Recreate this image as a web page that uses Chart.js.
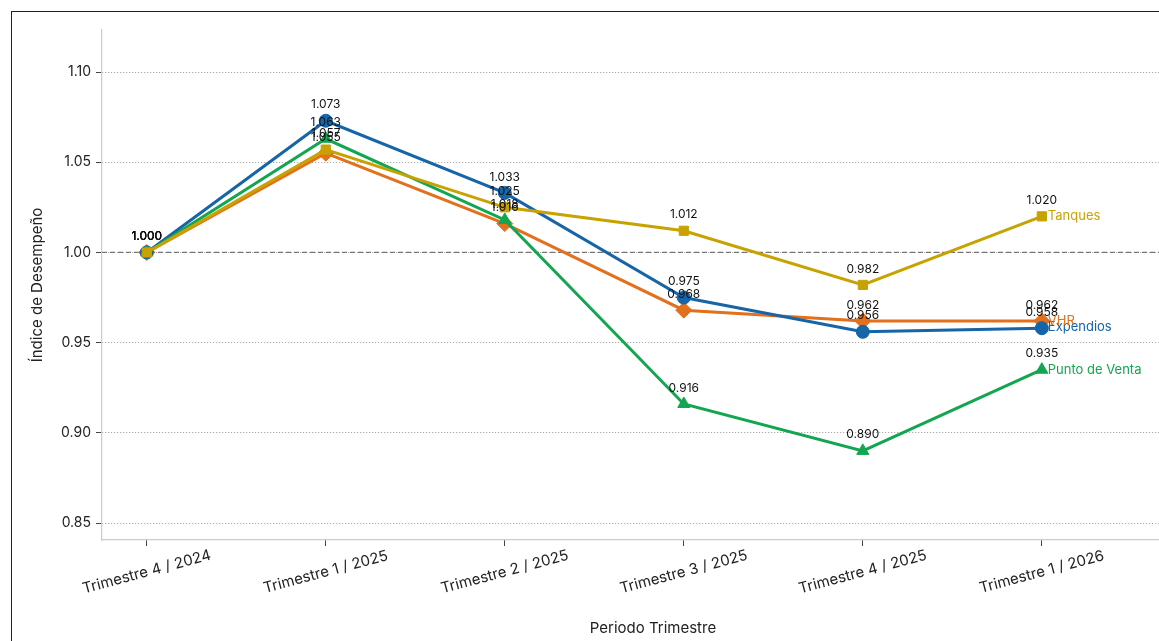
<!DOCTYPE html>
<html>
<head>
<meta charset="utf-8">
<script src="https://cdn.jsdelivr.net/npm/chart.js@4"></script>
<style>
  body { margin: 0; background: #fff; overflow: hidden; }
  #frame { position: absolute; left: 11px; top: 11px; width: 1220px; height: 700px; border: 1.5px solid #222; }
  #wrap { position: absolute; left: 0; top: 0; width: 1213px; height: 641px; }
</style>
</head>
<body>
<div id="frame"></div>
<div id="wrap"><canvas id="chart"></canvas></div>
<script>
const periods = ['Trimestre 4 / 2024', 'Trimestre 1 / 2025', 'Trimestre 2 / 2025', 'Trimestre 3 / 2025', 'Trimestre 4 / 2025', 'Trimestre 1 / 2026'];
const expendios = [1.000, 1.073, 1.033, 0.975, 0.956, 0.958];
const tanques = [1.000, 1.057, 1.025, 1.012, 0.982, 1.020];
const puntoVenta = [1.000, 1.063, 1.018, 0.916, 0.890, 0.935];
const vhr = [1.000, 1.055, 1.016, 0.968, 0.962, 0.962];
const yTicks = [0.85, 0.90, 0.95, 1.00, 1.05, 1.10];

const FONT = 'Inter, "Open Sans", sans-serif';

function series(name, values, color, style) {
  return {
    label: name,
    data: values.map((v, i) => ({ x: i, y: v })),
    borderColor: color,
    backgroundColor: color,
    borderWidth: 3,
    pointStyle: style,
    pointRadius: style === 'rectRot' ? 8 : style === 'triangle' ? 7 : 6.5,
    pointBorderWidth: 1,
    tension: 0
  };
}

// dashed reference line at 1.00, value labels, end labels, x tick text
const extras = {
  id: 'extras',
  beforeDatasetsDraw(chart) {
    const { ctx, chartArea, scales } = chart;
    const y = scales.y.getPixelForValue(1.0);
    ctx.save();
    ctx.strokeStyle = '#777';
    ctx.lineWidth = 1.2;
    ctx.setLineDash([5, 3]);
    ctx.beginPath();
    ctx.moveTo(chartArea.left, y);
    ctx.lineTo(chartArea.right, y);
    ctx.stroke();
    ctx.restore();
  },
  afterDatasetsDraw(chart) {
    const { ctx, scales } = chart;
    ctx.save();
    ctx.font = '12px ' + FONT;
    ctx.fillStyle = '#111';
    ctx.textAlign = 'center';
    ctx.textBaseline = 'middle';
    chart.data.datasets.forEach(ds => {
      ds.data.forEach(p => {
        const px = scales.x.getPixelForValue(p.x);
        const py = scales.y.getPixelForValue(p.y);
        ctx.fillText(p.y.toFixed(3), px, py - 16);
      });
    });
    ctx.font = '13px ' + FONT;
    ctx.textAlign = 'left';
    chart.data.datasets.forEach(ds => {
      const last = ds.data[ds.data.length - 1];
      const px = scales.x.getPixelForValue(last.x);
      const py = scales.y.getPixelForValue(last.y);
      ctx.fillStyle = ds.borderColor;
      ctx.fillText(ds.label, px + 6, py + (ds.label === 'Expendios' ? -1 : 0));
    });
    ctx.font = '15px ' + FONT;
    ctx.fillStyle = '#222';
    ctx.textAlign = 'center';
    periods.forEach((p, i) => {
      const px = scales.x.getPixelForValue(i);
      ctx.save();
      ctx.translate(px, scales.x.top + 32);
      ctx.rotate(-15 * Math.PI / 180);
      ctx.fillText(p, 0, 0);
      ctx.restore();
    });
    ctx.restore();
  }
};

new Chart(document.getElementById('chart'), {
  type: 'line',
  data: {
    datasets: [
      series('Tanques', tanques, '#c8a200', 'rect'),
      series('Punto de Venta', puntoVenta, '#12a650', 'triangle'),
      series('Expendios', expendios, '#1565a8', 'circle'),
      series('VHR', vhr, '#e2701c', 'rectRot')
    ]
  },
  options: {
    responsive: true,
    maintainAspectRatio: false,
    animation: false,
    layout: { padding: { top: 30, left: 24, right: 0, bottom: 0 } },
    plugins: { legend: { display: false }, tooltip: { enabled: false } },
    scales: {
      x: {
        type: 'linear',
        min: -0.25,
        max: 5.906,
        afterBuildTicks: s => { s.ticks = periods.map((_, i) => ({ value: i })); },
        afterFit: s => { s.height = 101; },
        ticks: { display: false },
        grid: { drawOnChartArea: false, tickLength: 6, color: '#444' },
        border: { color: '#ccc', width: 1.2 },
        title: { display: true, text: 'Periodo Trimestre', color: '#222', font: { family: FONT, size: 15 }, padding: { top: 54 } }
      },
      y: {
        min: 0.8406,
        max: 1.1233,
        afterBuildTicks: s => { s.ticks = yTicks.map(v => ({ value: v })); },
        afterFit: s => { s.width = 78; },
        ticks: {
          color: '#222',
          font: { family: FONT, size: 14 },
          padding: 5,
          callback: v => v.toFixed(2)
        },
        grid: { color: '#999', tickBorderDash: [], tickColor: '#444', tickLength: 6 },
        border: { color: '#ccc', width: 1.2, dash: [1, 2] },
        title: { display: true, text: 'Índice de Desempeño', color: '#222', font: { family: FONT, size: 15 }, padding: { bottom: 4 } }
      }
    }
  },
  plugins: [extras]
});
</script>
</body>
</html>
